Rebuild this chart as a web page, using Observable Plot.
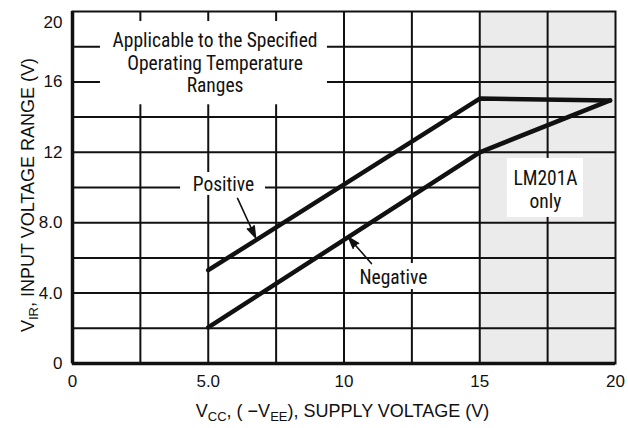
<!DOCTYPE html>
<html>
<head>
<meta charset="utf-8">
<script src="https://cdn.jsdelivr.net/npm/d3@7"></script>
<script src="https://cdn.jsdelivr.net/npm/@observablehq/plot@0.6"></script>
<style>
  html, body { margin: 0; padding: 0; background: #fff; }
  #chart svg { display: block; }
</style>
</head>
<body>
<div id="chart"></div>
<script>
// ---- data ----
const positive = [[5, 5.3], [15, 15.05], [19.8, 14.95]];
const negative = [[5, 2.05], [15, 12.0], [19.8, 14.95]];

const xTicks = [0, 5, 10, 15, 20];
const xTickLabels = ["0", "5.0", "10", "15", "20"];
const yTicks = [0, 4, 8, 12, 16];
const yTickLabels = ["0", "4.0", "8.0", "12", "16"];
const yTopTick = [20];
const yTopTickLabel = ["20"];

const xGrid = [2.5, 5, 7.5, 10, 12.5, 15, 17.5];
const yGridFull = [2, 4, 6, 8, 12, 14, 16, 18];
const yGridPartial = [10];          // stops at the LM201A region
const shadedX = [15, 20];            // LM201A-only region

const labels = ["Applicable to the Specified\nOperating Temperature\nRanges", "Positive", "Negative", "LM201A\nonly"];
const labelX = [5.25, 5.56, 11.82, 17.42];
const labelY = [17.12, 10.23, 4.94, 9.92];
const labelBoxX1 = [1.03, 3.98, 10.53, 16.02];
const labelBoxX2 = [9.39, 7.11, 13.11, 18.82];
const labelBoxY1 = [14.7, 9.55, 4.2, 8.3];
const labelBoxY2 = [19.43, 10.85, 5.68, 11.65];

const arrowFromX = [6.08, 11.01];
const arrowFromY = [9.38, 5.68];
const arrowToX = [6.74, 10.17];
const arrowToY = [7.16, 7.16];

// ---- build tables ----
const toPts = (arr, s) => arr.map(([x, y]) => ({x, y, s}));
const curves = [...toPts(positive, "Positive"), ...toPts(negative, "Negative")];
const boxes = labels.map((t, i) => ({x1: labelBoxX1[i], x2: labelBoxX2[i], y1: labelBoxY1[i], y2: labelBoxY2[i]}));
const notes = labels.map((t, i) => ({x: labelX[i], y: labelY[i], t}));
const arrows = arrowFromX.map((d, i) => ({x1: arrowFromX[i], y1: arrowFromY[i], x2: arrowToX[i], y2: arrowToY[i]}));

const NARROW = '"Roboto Condensed", "Liberation Sans Narrow", "Arial Narrow", sans-serif';
const SANS = '"Liberation Sans", Arial, Helvetica, sans-serif';

const plot = Plot.plot({
  width: 628,
  height: 428,
  marginLeft: 72,
  marginRight: 13,
  marginTop: 11,
  marginBottom: 65,
  style: {fontFamily: SANS, fontSize: "17px", color: "#111", background: "white"},
  x: {domain: [0, 20], axis: null},
  y: {domain: [0, 20], axis: null},
  marks: [
    Plot.rect([{x1: shadedX[0], x2: shadedX[1]}], {x1: "x1", x2: "x2", y1: 0, y2: 20, fill: "#ebebeb"}),
    Plot.ruleX(xGrid, {stroke: "#111", strokeWidth: 2}),
    Plot.ruleY(yGridFull, {stroke: "#111", strokeWidth: 2}),
    Plot.ruleY(yGridPartial, {x1: 0, x2: 15, stroke: "#111", strokeWidth: 2}),
    Plot.rect(boxes, {x1: "x1", x2: "x2", y1: "y1", y2: "y2", fill: "white"}),
    Plot.frame({stroke: "#111", strokeWidth: 2}),
    Plot.ruleX([0], {stroke: "#111", strokeWidth: 3.5}),
    Plot.ruleY([0], {stroke: "#111", strokeWidth: 3.5}),
    Plot.line(curves, {x: "x", y: "y", z: "s", stroke: "#111", strokeWidth: 4.5, strokeLinecap: "round", strokeLinejoin: "round"}),
    Plot.arrow(arrows, {x1: "x1", y1: "y1", x2: "x2", y2: "y2", stroke: "#111", fill: "#111", strokeWidth: 1.6, headLength: 11, headAngle: 36}),
    Plot.text(notes, {x: "x", y: "y", text: "t", fill: "#111", fontFamily: NARROW, fontSize: 19.5, lineHeight: 1.17}),
    Plot.text(xTicks, {x: d => d, y: 0, text: (d, i) => xTickLabels[i], dy: 18, fill: "#111", fontSize: 17}),
    Plot.text(yTicks, {x: 0, y: d => d, text: (d, i) => yTickLabels[i], dx: -10, textAnchor: "end", fill: "#111", fontSize: 17}),
    Plot.text(yTopTick, {x: 0, y: d => d, text: (d, i) => yTopTickLabel[i], dx: -10, dy: 11, textAnchor: "end", fill: "#111", fontSize: 17})
  ]
});

// axis titles with subscripts
const svg = d3.select(plot);
const xs = plot.scale("x"), ys = plot.scale("y");
const xt = svg.append("text")
  .attr("x", (xs.range[0] + xs.range[1]) / 2 - 1)
  .attr("y", 417)
  .attr("text-anchor", "middle")
  .attr("font-family", SANS)
  .attr("font-size", 18)
  .attr("fill", "#111");
xt.append("tspan").text("V");
xt.append("tspan").attr("dy", 4).attr("font-size", 13).text("CC");
xt.append("tspan").attr("dy", -4).text(", ( \u2212V");
xt.append("tspan").attr("dy", 4).attr("font-size", 13).text("EE");
xt.append("tspan").attr("dy", -4).text("), SUPPLY VOLTAGE (V)");

const yt = svg.append("text")
  .attr("transform", `translate(34,${(ys.range[0] + ys.range[1]) / 2 + 8}) rotate(-90)`)
  .attr("text-anchor", "middle")
  .attr("font-family", SANS)
  .attr("font-size", 18)
  .attr("fill", "#111");
yt.append("tspan").text("V");
yt.append("tspan").attr("dy", 4).attr("font-size", 13).text("IR");
yt.append("tspan").attr("dy", -4).text(", INPUT VOLTAGE RANGE (V)");

document.getElementById("chart").append(plot);
</script>
</body>
</html>
